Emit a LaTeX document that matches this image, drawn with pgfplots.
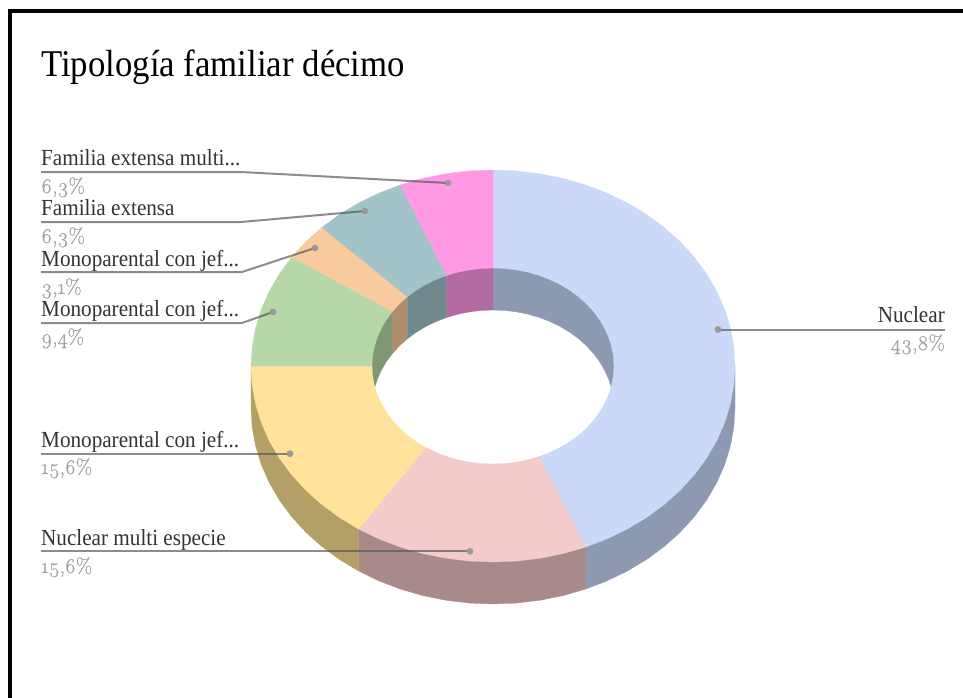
\documentclass[border=0pt]{standalone}
\usepackage{pgfplots}
\pgfplotsset{compat=1.18}
\usepackage{fontspec}
\setmainfont{Liberation Serif}
\newfontfamily\titlefont[FakeStretch=0.92]{Liberation Serif}
\newfontfamily\numfont[Numbers=OldStyle,FakeBold=0.5]{Latin Modern Roman}
\definecolor{cBlue}{HTML}{C9D9F7}
\definecolor{cPink}{HTML}{F3CBCB}
\definecolor{cYellow}{HTML}{FFE39A}
\definecolor{cGreen}{HTML}{B6D7A8}
\definecolor{cOrange}{HTML}{F9CB9C}
\definecolor{cTeal}{HTML}{A2C4C9}
\definecolor{cMagenta}{HTML}{FF99E6}
\definecolor{dBlue}{HTML}{8C99B0}
\definecolor{dPink}{HTML}{A98A8B}
\definecolor{dYellow}{HTML}{B2A067}
\definecolor{dGreen}{HTML}{7F9775}
\definecolor{dOrange}{HTML}{AE8E6D}
\definecolor{dTeal}{HTML}{71898C}
\definecolor{dMagenta}{HTML}{B26BA1}
\definecolor{cLead}{HTML}{555555}
\definecolor{cDot}{HTML}{999999}
\definecolor{cLabel}{HTML}{333333}
\definecolor{cVal}{HTML}{A0A0A0}
\newcommand{\lab}[3]{\node[anchor=base west,inner sep=0pt,text=cLabel] at (axis cs:#1,#2) {\titlefont\fontsize{23}{23}\selectfont #3};}
\newcommand{\val}[3]{\node[anchor=base west,inner sep=0pt,text=cVal] at (axis cs:#1,#2) {\numfont\fontsize{21}{21}\selectfont #3};}
\begin{document}
\begin{tikzpicture}
\begin{axis}[scale only axis,width=963pt,height=698pt,hide axis,
  xmin=-493,xmax=470,ymin=-366,ymax=332,y dir=reverse,
  wedge/.style={fill=#1,draw=#1,line width=0.3pt,mark=none,forget plot},
  lead/.style={draw=cLead,draw opacity=0.68,line width=2pt,mark=none,forget plot},
  dot/.style={only marks,mark=*,mark size=3.1pt,mark options={fill=cDot,draw=cDot},forget plot}]
\path (axis cs:-493,-366) rectangle (axis cs:470,332);
% frame
\addplot[black,line width=3.2pt,mark=none,forget plot] coordinates {(-483,332)(-483,-355)(470,-355)};
% outer walls
\addplot[wedge=dBlue] coordinates {(242,42)(240.83,61.21)(237.35,80.24)(231.58,98.90)(223.58,117.01)(213.42,134.39)(201.22,150.89)(187.07,166.34)(171.12,180.59)(153.52,193.51)(134.45,204.97)(114.08,214.86)(92.61,223.08)(92.61,181.08)(242,0)} --cycle;
\addplot[wedge=dPink] coordinates {(92.61,223.08)(70.25,229.56)(47.21,234.23)(23.72,237.06)(0,238)(-23.72,237.06)(-47.21,234.23)(-70.25,229.56)(-92.61,223.08)(-114.08,214.86)(-134.45,204.97)(-134.45,162.97)(92.61,181.08)} --cycle;
\addplot[wedge=dYellow] coordinates {(-134.45,204.97)(-153.52,193.51)(-171.12,180.59)(-187.07,166.34)(-201.22,150.89)(-213.42,134.39)(-223.58,117.01)(-231.58,98.90)(-237.35,80.24)(-240.83,61.21)(-242,42)(-242,0)(-134.45,162.97)} --cycle;
% inner walls
\addplot[wedge=dBlue] coordinates {(0,-56)(11.86,-55.53)(23.61,-54.11)(35.12,-51.78)(46.30,-48.54)(57.04,-44.43)(67.22,-39.49)(76.76,-33.76)(85.56,-27.30)(93.53,-20.17)(100.61,-12.45)(106.71,-4.20)(111.79,4.50)(115.79,13.55)(118.68,22.88)(120.42,32.39)(121,42)(121,-98)(0,-98)} --cycle;
\addplot[wedge=dGreen] coordinates {(-121,42)(-120.42,32.39)(-118.68,22.88)(-115.79,13.55)(-111.79,4.50)(-106.71,-4.20)(-100.61,-12.45)(-100.61,-98)(-121,-98)} --cycle;
\addplot[wedge=dOrange] coordinates {(-100.61,-12.45)(-93.53,-20.17)(-85.56,-27.30)(-85.56,-98)(-100.61,-98)} --cycle;
\addplot[wedge=dTeal] coordinates {(-85.56,-27.30)(-76.76,-33.76)(-67.22,-39.49)(-57.04,-44.43)(-46.30,-48.54)(-46.30,-98)(-85.56,-98)} --cycle;
\addplot[wedge=dMagenta] coordinates {(-46.30,-48.54)(-35.12,-51.78)(-23.61,-54.11)(-11.86,-55.53)(0,-56)(0,-98)(-46.30,-98)} --cycle;
% top surface: Nuclear 43.8
\addplot[wedge=cBlue] coordinates {(0,-196)(23.72,-195.06)(47.21,-192.23)(70.25,-187.56)(92.61,-181.08)(114.08,-172.86)(134.45,-162.97)(153.52,-151.51)(171.12,-138.59)(187.07,-124.34)(201.22,-108.89)(213.42,-92.39)(223.58,-75.01)(231.58,-56.90)(237.35,-38.24)(240.83,-19.21)(242,0)(240.83,19.21)(237.35,38.24)(231.58,56.90)(223.58,75.01)(213.42,92.39)(201.22,108.89)(187.07,124.34)(171.12,138.59)(153.52,151.51)(134.45,162.97)(114.08,172.86)(92.61,181.08)
(46.30,90.54)(57.04,86.43)(67.22,81.49)(76.76,75.76)(85.56,69.30)(93.53,62.17)(100.61,54.45)(106.71,46.20)(111.79,37.50)(115.79,28.45)(118.68,19.12)(120.42,9.61)(121,0)(120.42,-9.61)(118.68,-19.12)(115.79,-28.45)(111.79,-37.50)(106.71,-46.20)(100.61,-54.45)(93.53,-62.17)(85.56,-69.30)(76.76,-75.76)(67.22,-81.49)(57.04,-86.43)(46.30,-90.54)(35.12,-93.78)(23.61,-96.11)(11.86,-97.53)(0,-98)} --cycle;
% Nuclear multi especie 15.6
\addplot[wedge=cPink] coordinates {(92.61,181.08)(70.25,187.56)(47.21,192.23)(23.72,195.06)(0,196)(-23.72,195.06)(-47.21,192.23)(-70.25,187.56)(-92.61,181.08)(-114.08,172.86)(-134.45,162.97)
(-67.22,81.49)(-57.04,86.43)(-46.30,90.54)(-35.12,93.78)(-23.61,96.11)(-11.86,97.53)(0,98)(11.86,97.53)(23.61,96.11)(35.12,93.78)(46.30,90.54)} --cycle;
% Monoparental 15.6
\addplot[wedge=cYellow] coordinates {(-134.45,162.97)(-153.52,151.51)(-171.12,138.59)(-187.07,124.34)(-201.22,108.89)(-213.42,92.39)(-223.58,75.01)(-231.58,56.90)(-237.35,38.24)(-240.83,19.21)(-242,0)
(-121,0)(-120.42,9.61)(-118.68,19.12)(-115.79,28.45)(-111.79,37.50)(-106.71,46.20)(-100.61,54.45)(-93.53,62.17)(-85.56,69.30)(-76.76,75.76)(-67.22,81.49)} --cycle;
% Monoparental 9.4
\addplot[wedge=cGreen] coordinates {(-242,0)(-240.83,-19.21)(-237.35,-38.24)(-231.58,-56.90)(-223.58,-75.01)(-213.42,-92.39)(-201.22,-108.89)
(-100.61,-54.45)(-106.71,-46.20)(-111.79,-37.50)(-115.79,-28.45)(-118.68,-19.12)(-120.42,-9.61)(-121,0)} --cycle;
% Monoparental 3.1
\addplot[wedge=cOrange] coordinates {(-201.22,-108.89)(-187.07,-124.34)(-171.12,-138.59)(-85.56,-69.30)(-93.53,-62.17)(-100.61,-54.45)} --cycle;
% Familia extensa 6.3
\addplot[wedge=cTeal] coordinates {(-171.12,-138.59)(-153.52,-151.51)(-134.45,-162.97)(-114.08,-172.86)(-92.61,-181.08)(-46.30,-90.54)(-57.04,-86.43)(-67.22,-81.49)(-76.76,-75.76)(-85.56,-69.30)} --cycle;
% Familia extensa multi 6.3
\addplot[wedge=cMagenta] coordinates {(-92.61,-181.08)(-70.25,-187.56)(-47.21,-192.23)(-23.72,-195.06)(0,-196)(0,-98)(-11.86,-97.53)(-23.61,-96.11)(-35.12,-93.78)(-46.30,-90.54)} --cycle;
% leader lines
\addplot[lead] coordinates {(-452,-194)(-252,-194)(-45,-183)};
\addplot[lead] coordinates {(-452,-144)(-252,-144)(-128,-155)};
\addplot[lead] coordinates {(-452,-94)(-251,-94)(-178,-118)};
\addplot[lead] coordinates {(-452,-43)(-251,-43)(-220,-54)};
\addplot[lead] coordinates {(-452,87.7)(-203,87.7)};
\addplot[lead] coordinates {(-452,185.3)(-23,185.3)};
\addplot[lead] coordinates {(225,-36.5)(452,-36.5)};
\addplot[dot] coordinates {(-45,-183)(-128,-155)(-178,-118)(-220,-54)(-203,87.7)(-23,185.3)(225,-36.5)};
% texts
\node[anchor=base west,inner sep=0pt,text=black] at (axis cs:-452,-289) {\titlefont\fontsize{37.8}{38}\selectfont Tipología familiar décimo};
\lab{-452}{-201}{Familia extensa multi...}
\val{-452}{-173}{6,3\%}
\lab{-452}{-151}{Familia extensa}
\val{-452}{-123}{6,3\%}
\lab{-452}{-100}{Monoparental con jef...}
\val{-452}{-72}{3,1\%}
\lab{-452}{-50}{Monoparental con jef...}
\val{-452}{-22}{9,4\%}
\lab{-452}{81}{Monoparental con jef...}
\val{-452}{108}{15,6\%}
\lab{-452}{179}{Nuclear multi especie}
\val{-452}{207}{15,6\%}
\node[anchor=base east,inner sep=0pt,text=cLabel] at (axis cs:452,-44) {\titlefont\fontsize{23}{23}\selectfont Nuclear};
\node[anchor=base east,inner sep=0pt,text=cVal] at (axis cs:452,-16) {\numfont\fontsize{21}{21}\selectfont 43,8\%};
\end{axis}
\end{tikzpicture}
\end{document}
